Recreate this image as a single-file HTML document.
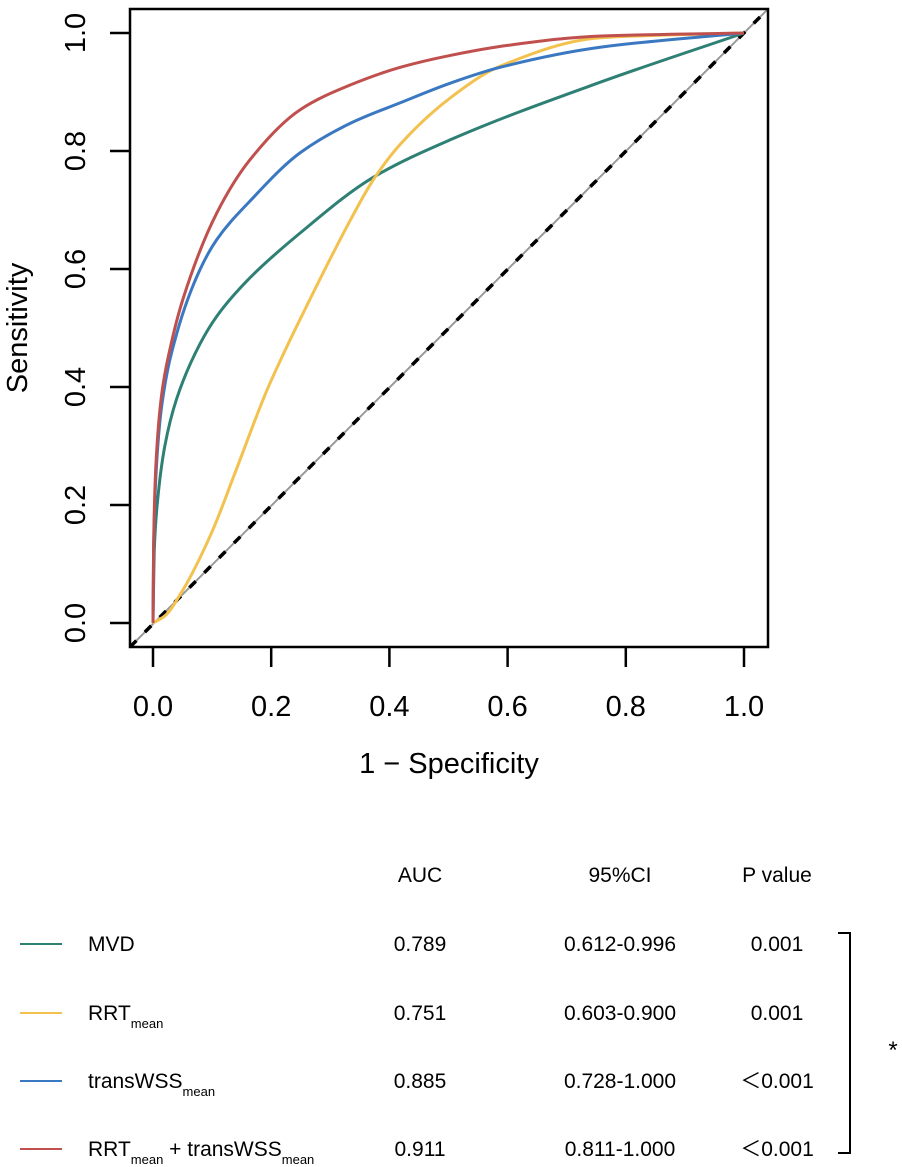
<!DOCTYPE html>
<html><head><meta charset="utf-8">
<style>
html,body{margin:0;padding:0;background:#fff;}
svg{display:block;font-family:"Liberation Sans",Arial,sans-serif;}
</style></head>
<body>
<svg id="chart" width="902" height="1167" viewBox="0 0 902 1167">
  <g id="plot"></g>
  <g id="legend"></g>
</svg>
<script>
const xTicks = [0, 0.2, 0.4, 0.6, 0.8, 1.0];
const xTickLabels = ["0.0","0.2","0.4","0.6","0.8","1.0"];
const yTicks = [0, 0.2, 0.4, 0.6, 0.8, 1.0];
const yTickLabels = ["0.0","0.2","0.4","0.6","0.8","1.0"];
const seriesNames = ["MVD","RRT","transWSS","RRT+transWSS"];
const seriesColors = ["#2e8075","#f2c14e","#3b78c2","#c0504d"];
const mvdFpr = [0,0.002,0.008,0.02,0.04,0.08,0.108,0.164,0.249,0.372,0.503,0.758,1];
const mvdTpr = [0,0.12,0.21,0.30,0.38,0.474,0.52,0.585,0.661,0.755,0.819,0.917,1];
const rrtFpr = [0,0.02,0.05,0.1,0.139,0.193,0.232,0.249,0.334,0.372,0.419,0.503,0.588,0.758,1];
const rrtTpr = [0,0.012,0.055,0.155,0.255,0.395,0.48,0.515,0.683,0.75,0.812,0.89,0.944,0.992,1];
const wssFpr = [0,0.001,0.005,0.015,0.04,0.08,0.108,0.164,0.249,0.334,0.419,0.503,0.588,0.758,1];
const wssTpr = [0,0.12,0.25,0.37,0.49,0.60,0.65,0.715,0.797,0.847,0.882,0.915,0.942,0.976,1];
const comboFpr = [0,0.001,0.005,0.015,0.03,0.051,0.108,0.164,0.249,0.334,0.419,0.503,0.6,0.758,1];
const comboTpr = [0,0.13,0.27,0.39,0.47,0.55,0.695,0.785,0.87,0.912,0.942,0.962,0.979,0.995,1];
const aucValues = ["0.789","0.751","0.885","0.911"];
const ciValues = ["0.612-0.996","0.603-0.900","0.728-1.000","0.811-1.000"];
const pValues = ["0.001","0.001","\uFF1C0.001","\uFF1C0.001"];

const NS="http://www.w3.org/2000/svg";
const X0=153, X1=744, Y0=623, Y1=33;
function sx(v){return X0+(X1-X0)*v;}
function sy(v){return Y0-(Y0-Y1)*v;}
function mk(tag,attrs,parent){const e=document.createElementNS(NS,tag);for(const k in attrs)e.setAttribute(k,attrs[k]);parent.appendChild(e);return e;}
const plot=document.getElementById('plot');

let g=mk('line',{x1:130,y1:647,x2:768,y2:9,stroke:'#999','stroke-width':2},plot);


let d=mk('line',{x1:130,y1:647,x2:768,y2:9,stroke:'#000','stroke-width':3.5,'stroke-dasharray':'9 12'},plot);



function monotonePath(xs,ys){
  const n=xs.length, dx=[], m=[], t=[];
  for(let i=0;i<n-1;i++){dx.push(xs[i+1]-xs[i]);m.push((ys[i+1]-ys[i])/dx[i]);}
  t[0]=m[0]; t[n-1]=m[n-2];
  for(let i=1;i<n-1;i++){ if(m[i-1]*m[i]<=0)t[i]=0; else {const w1=2*dx[i]+dx[i-1],w2=dx[i]+2*dx[i-1]; t[i]=(w1+w2)/(w1/m[i-1]+w2/m[i]);}}
  let p='M'+sx(xs[0])+','+sy(ys[0]);
  for(let i=0;i<n-1;i++){
    const h=dx[i];
    const c1x=xs[i]+h/3,c1y=ys[i]+t[i]*h/3,c2x=xs[i+1]-h/3,c2y=ys[i+1]-t[i+1]*h/3;
    p+=' C'+sx(c1x)+','+sy(c1y)+' '+sx(c2x)+','+sy(c2y)+' '+sx(xs[i+1])+','+sy(ys[i+1]);
  }
  return p;
}
const curves=[[mvdFpr,mvdTpr,'curve-mvd'],[rrtFpr,rrtTpr,'curve-rrt-mean'],[wssFpr,wssTpr,'curve-transwss-mean'],[comboFpr,comboTpr,'curve-rrt-plus-transwss']];
curves.forEach((c,i)=>{
  const p=mk('path',{d:monotonePath(c[0],c[1]),fill:'none',stroke:seriesColors[i],'stroke-width':3,'stroke-linejoin':'round'},plot);
  
  
});

let box=mk('rect',{x:130,y:9,width:638,height:638,fill:'none',stroke:'#000','stroke-width':2.5},plot);



xTicks.forEach((v,i)=>{
  const l=mk('line',{x1:sx(v),y1:647,x2:sx(v),y2:667,stroke:'#000','stroke-width':2.5},plot);
  
  
  const t=mk('text',{x:sx(v),y:716,'font-size':29,'text-anchor':'middle',fill:'#000'},plot);
  t.textContent=xTickLabels[i];
  
  
});
yTicks.forEach((v,i)=>{
  const l=mk('line',{x1:110,y1:sy(v),x2:130,y2:sy(v),stroke:'#000','stroke-width':2.5},plot);
  
  
  const t=mk('text',{x:0,y:0,'font-size':29,'text-anchor':'middle',fill:'#000',transform:'translate(85,'+sy(v)+') rotate(-90)'},plot);
  t.textContent=yTickLabels[i];
  
  
});
let xt=mk('text',{x:449,y:773,'font-size':29,'text-anchor':'middle'},plot);
xt.textContent='1 \u2212 Specificity';


let yt=mk('text',{x:0,y:0,'font-size':29,'text-anchor':'middle',transform:'translate(27,328) rotate(-90)'},plot);
yt.textContent='Sensitivity';



const lg=document.getElementById('legend');
const hdr=[['AUC',420],['95%CI',620],['P value',777]];
hdr.forEach(h=>{
  const t=mk('text',{x:h[1],y:882,'font-size':21,'text-anchor':'middle'},lg);
  t.textContent=h[0];
  
  
});
const labelsHtml=[
  [['MVD','']],
  [['RRT',''],['mean','s']],
  [['transWSS',''],['mean','s']],
  [['RRT',''],['mean','s'],[' + transWSS',''],['mean','s']]
];
const rowY=[944,1013,1081,1149];
seriesNames.forEach((n,i)=>{
  const y=rowY[i];
  const l=mk('line',{x1:20,y1:y,x2:62,y2:y,stroke:seriesColors[i],'stroke-width':2},lg);
  
  
  const t=mk('text',{x:88,y:y+7,'font-size':21},lg);
  
  
  labelsHtml[i].forEach(part=>{
    const s=mk('tspan',{},t);
    if(part[1]==='s'){s.setAttribute('font-size',13);s.setAttribute('dy',8);}
    else if(t.childNodes.length>1){s.setAttribute('dy',-8);}
    s.textContent=part[0];
  });
  [[aucValues[i],420],[ciValues[i],620],[pValues[i],777]].forEach(c=>{
    const v=mk('text',{x:c[1],y:y+7,'font-size':21,'text-anchor':'middle'},lg);
    v.textContent=c[0];
    
    
  });
});
let br=mk('path',{d:'M838,933 H850 V1153 H838',fill:'none',stroke:'#000','stroke-width':2},lg);


let st=mk('text',{x:893,y:1058,'font-size':24,'text-anchor':'middle'},lg);
st.textContent='*';


</script>
</body></html>
